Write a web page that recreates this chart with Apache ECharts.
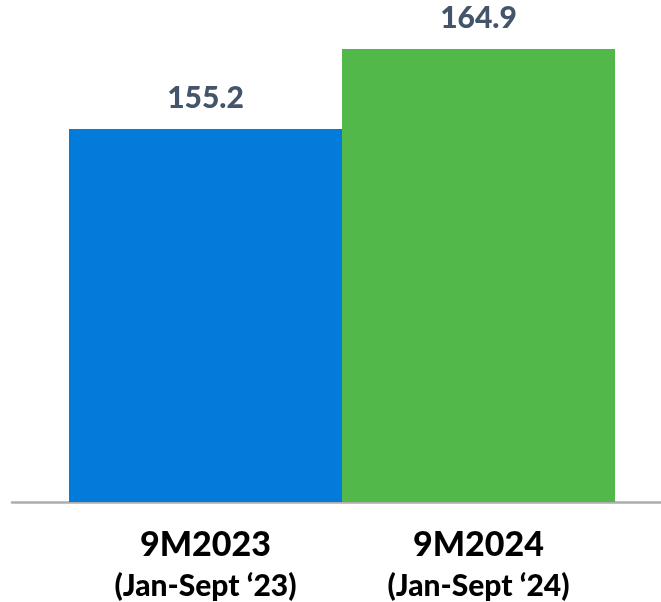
<!DOCTYPE html>
<html>
<head>
<meta charset="utf-8">
<script src="https://cdn.jsdelivr.net/npm/echarts@6/dist/echarts.min.js"></script>
<style>
html,body{margin:0;padding:0;background:#fff;}
#c{width:661px;height:602px;}
</style>
</head>
<body>
<div id="c"></div>
<script>
var categories = ['9M2023', '9M2024'];
var subLabels = ['(Jan-Sept \u201823)', '(Jan-Sept \u201824)'];
var values = [155.2, 164.9];
var barColors = ['#037BDB', '#53B84A'];

var chart = echarts.init(document.getElementById('c'));
var font = 'Lato, "Open Sans", sans-serif';
chart.setOption({
  animation: false,
  backgroundColor: '#ffffff',
  grid: [
    {left: 69, right: 46, top: 7, bottom: 100},
    {left: 12, right: 0, top: 7, bottom: 100}
  ],
  xAxis: [
    {gridIndex: 0, type: 'category', data: categories, axisLine: {show: false}, axisTick: {show: false},
      axisLabel: {
        show: true, margin: 22, verticalAlign: 'top', interval: 0,
        formatter: function (v, i) { return '{a|' + v + '}\n{b|' + subLabels[i] + '}'; },
        rich: {
          a: {fontFamily: font, fontWeight: 900, fontSize: 34, color: '#000', lineHeight: 42},
          b: {fontFamily: font, fontWeight: 900, fontSize: 30, color: '#000', lineHeight: 40}
        }
      }},
    {gridIndex: 1, type: 'category', data: categories, axisLine: {show: true, lineStyle: {color: '#ADADAD', width: 2.5}}, axisTick: {show: false}, axisLabel: {show: false}}
  ],
  yAxis: [
    {gridIndex: 0, type: 'value', min: 110, max: 170, show: false, splitLine: {show: false}},
    {gridIndex: 1, type: 'value', show: false, splitLine: {show: false}}
  ],
  series: [{
    type: 'bar',
    xAxisIndex: 0, yAxisIndex: 0,
    barWidth: '100%',
    data: values.map(function (v, i) { return {value: v, itemStyle: {color: barColors[i]}}; }),
    label: {
      show: true, position: 'top', distance: 14,
      formatter: function (p) { return '{v|' + p.value.toFixed(1) + '}'; },
      rich: {
        v: {fontFamily: font, fontWeight: 900, fontSize: 30, color: '#44546A', lineHeight: 34}
      }
    }
  }]
});
</script>
</body>
</html>
